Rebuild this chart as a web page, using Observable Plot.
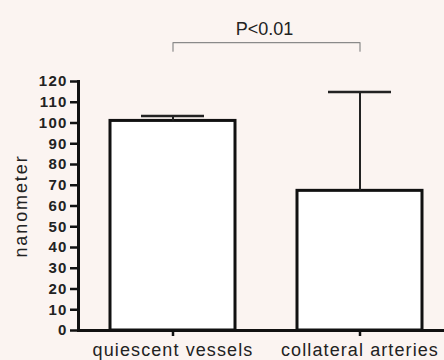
<!DOCTYPE html>
<html>
<head>
<meta charset="utf-8">
<script src="https://cdn.jsdelivr.net/npm/d3@7"></script>
<script src="https://cdn.jsdelivr.net/npm/@observablehq/plot@0.6"></script>
<style>
  html, body { margin: 0; padding: 0; background: #fbf4f1; }
  #chart { width: 444px; height: 360px; }
</style>
</head>
<body>
<div id="chart"></div>
<script>
// Data
const categories = ["quiescent vessels", "collateral arteries"];
const means = [101, 67.3];
const errorTops = [103.4, 114.9];
const yTicks = [0, 10, 20, 30, 40, 50, 60, 70, 80, 90, 100, 110, 120];
const yLabel = "nanometer";
const pLabel = "P<0.01";

// Annotation levels (in y units)
const bracketTop = 138.7;
const bracketFoot = 134.6;
const pTextY = 145;

const rows = categories.map((c, i) => ({cat: c, mean: means[i], top: errorTops[i]}));
const bracket = [
  {cat: categories[0], y: bracketFoot},
  {cat: categories[0], y: bracketTop},
  {cat: categories[1], y: bracketTop},
  {cat: categories[1], y: bracketFoot}
];

const font = "'Liberation Sans', Arial, sans-serif";

const chart = Plot.plot({
  width: 444,
  height: 360,
  marginLeft: 78,
  marginRight: 0,
  marginTop: 81,
  marginBottom: 30,
  style: {background: "#fbf4f1", fontFamily: font, color: "#222", overflow: "visible"},
  x: {domain: categories, paddingInner: 0.333, paddingOuter: 0.143, align: 0.59},
  y: {domain: [0, 120]},
  marks: [
    Plot.barY(rows, {x: "cat", y: "mean", fill: "white", stroke: "#111", strokeWidth: 3}),
    Plot.ruleX(rows, {x: "cat", y1: "mean", y2: "top", stroke: "#222", strokeWidth: 2}),
    Plot.tickY(rows, {x: "cat", y: "top", stroke: "#222", strokeWidth: 2.5, inset: 31}),
    Plot.ruleY([0], {stroke: "#111", strokeWidth: 3}),
    Plot.frame({anchor: "left", stroke: "#111", strokeWidth: 3}),
    Plot.axisY({
      ticks: yTicks, tickSize: 8, tickPadding: 3, strokeWidth: 2.5, stroke: "#111",
      fontSize: 15, fill: "#222",
      label: null
    }),
    Plot.axisY({
      ticks: [], tickSize: 0,
      label: yLabel, labelAnchor: "center", labelArrow: "none", labelOffset: 64,
      fontSize: 18, fill: "#222"
    }),
    Plot.axisX({
      tickSize: 6, tickPadding: 7, strokeWidth: 2.5, stroke: "#111",
      fontSize: 18, fill: "#222", label: null
    }),
    Plot.line(bracket, {x: "cat", y: "y", stroke: "#8a8a8a", strokeWidth: 1.2, clip: false}),
    Plot.text([pLabel], {text: d => d, y: () => pTextY, frameAnchor: "middle", dx: 3, fontSize: 18, fill: "#222", lineAnchor: "middle"})
  ]
});

// style text tweaks
chart.querySelectorAll("[aria-label='y-axis tick label'] text").forEach(t => { t.style.letterSpacing = "1.2px"; t.style.fontWeight = "bold"; t.style.fontSize = "15px"; });
chart.querySelectorAll("[aria-label='x-axis tick label'] text").forEach(t => { t.style.letterSpacing = "1.1px"; });
chart.querySelectorAll("[aria-label='y-axis label'] text").forEach(t => { t.style.fontSize = "18px"; t.style.letterSpacing = "1.9px"; t.style.fontWeight = "normal"; });
document.getElementById("chart").appendChild(chart);
</script>
</body>
</html>
